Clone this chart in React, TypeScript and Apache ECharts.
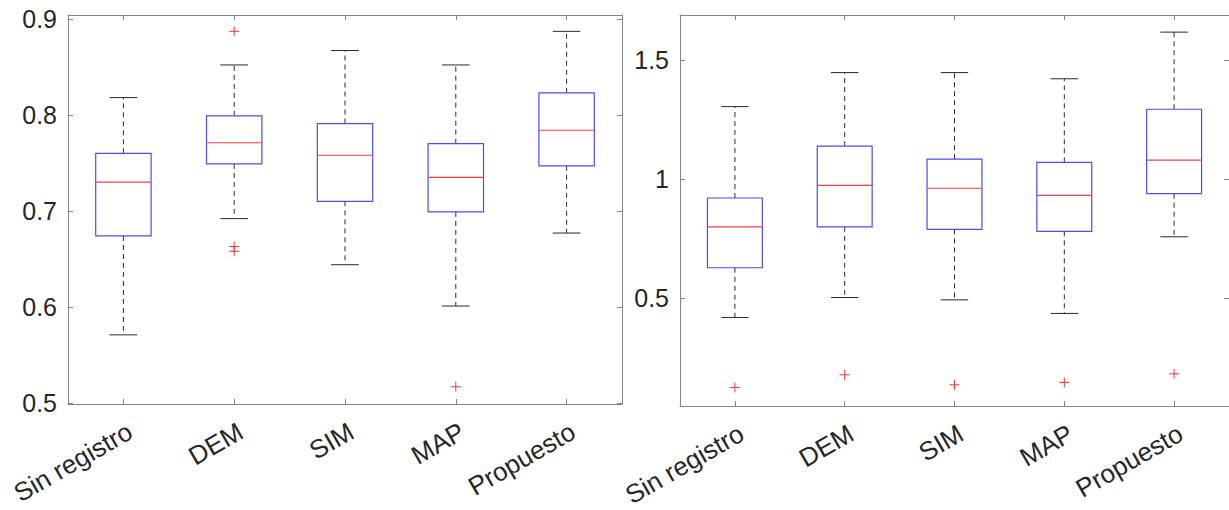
import React, { useEffect, useRef } from "react";
import * as echarts from "echarts";

// Categories (shared by both panels)
const categories = ["Sin registro", "DEM", "SIM", "MAP", "Propuesto"];

// Left panel: [min, Q1, median, Q3, max] per category
const leftBoxes = [
  [0.571, 0.674, 0.730, 0.760, 0.818],
  [0.692, 0.749, 0.771, 0.799, 0.852],
  [0.644, 0.710, 0.758, 0.791, 0.867],
  [0.601, 0.699, 0.735, 0.770, 0.852],
  [0.677, 0.747, 0.784, 0.823, 0.887],
];
// Left panel outliers: [categoryIndex, value]
const leftOutliers = [
  [1, 0.887],
  [1, 0.663],
  [1, 0.658],
  [3, 0.517],
];
const leftTicks = [0.5, 0.6, 0.7, 0.8, 0.9];

// Right panel: [min, Q1, median, Q3, max] per category
const rightBoxes = [
  [0.418, 0.627, 0.799, 0.920, 1.304],
  [0.502, 0.799, 0.973, 1.138, 1.447],
  [0.492, 0.788, 0.961, 1.083, 1.447],
  [0.435, 0.780, 0.931, 1.070, 1.421],
  [0.757, 0.938, 1.079, 1.293, 1.617],
];
const rightOutliers = [
  [0, 0.124],
  [1, 0.177],
  [2, 0.135],
  [3, 0.145],
  [4, 0.181],
];
const rightTicks = [0.5, 1, 1.5];

const FONT = "'Liberation Sans', Arial, Helvetica, sans-serif";
const AXIS_COLOR = "#858585";
const TEXT_COLOR = "#262626";
const BOX_COLOR = "#4c4cf2";
const MED_COLOR = "#ff3c3c";
const WHISKER_COLOR = "#2a2a2a";
const OUT_COLOR = "#ff3030";

function boxRender(params: any, api: any) {
  const i = api.value(0);
  const pMin = api.coord([i, api.value(1)]);
  const pQ1 = api.coord([i, api.value(2)]);
  const pMed = api.coord([i, api.value(3)]);
  const pQ3 = api.coord([i, api.value(4)]);
  const pMax = api.coord([i, api.value(5)]);
  const band = api.size([1, 0])[0];
  const cx = pMed[0];
  const bw = band * 0.5;
  const cw = band * 0.25;
  const dash = { stroke: WHISKER_COLOR, lineWidth: 1, lineDash: [5, 4], fill: null };
  const solid = { stroke: WHISKER_COLOR, lineWidth: 1, fill: null };
  return {
    type: "group",
    children: [
      { type: "line", shape: { x1: cx, y1: pQ3[1], x2: cx, y2: pMax[1] }, style: dash },
      { type: "line", shape: { x1: cx, y1: pQ1[1], x2: cx, y2: pMin[1] }, style: dash },
      { type: "line", shape: { x1: cx - cw / 2, y1: pMax[1], x2: cx + cw / 2, y2: pMax[1] }, style: solid },
      { type: "line", shape: { x1: cx - cw / 2, y1: pMin[1], x2: cx + cw / 2, y2: pMin[1] }, style: solid },
      {
        type: "rect",
        shape: { x: cx - bw / 2, y: pQ3[1], width: bw, height: pQ1[1] - pQ3[1] },
        style: { stroke: BOX_COLOR, lineWidth: 1.2, fill: null },
      },
      {
        type: "line",
        shape: { x1: cx - bw / 2, y1: pMed[1], x2: cx + bw / 2, y2: pMed[1] },
        style: { stroke: MED_COLOR, lineWidth: 1.2, fill: null },
      },
    ],
  };
}

function outlierRender(params: any, api: any) {
  const p = api.coord([api.value(0), api.value(1)]);
  const h = 5;
  const st = { stroke: OUT_COLOR, lineWidth: 1, fill: null };
  return {
    type: "group",
    children: [
      { type: "line", shape: { x1: p[0] - h, y1: p[1], x2: p[0] + h, y2: p[1] }, style: st },
      { type: "line", shape: { x1: p[0], y1: p[1] - h, x2: p[0], y2: p[1] + h }, style: st },
    ],
  };
}

function xAxes(gridIndex: number) {
  const line = { show: true, lineStyle: { color: AXIS_COLOR, width: 1 } };
  const tick = { show: true, inside: true, alignWithLabel: true, length: 5, lineStyle: { color: AXIS_COLOR } };
  return [
    {
      type: "category",
      gridIndex,
      data: categories,
      position: "bottom",
      axisLine: line,
      axisTick: tick,
      axisLabel: {
        rotate: 30,
        margin: 14,
        fontSize: 26,
        color: TEXT_COLOR,
        fontFamily: FONT,
        interval: 0,
        verticalAlign: "top",
      },
    },
    {
      type: "category",
      gridIndex,
      data: categories,
      position: "top",
      axisLine: line,
      axisTick: tick,
      axisLabel: { show: false },
    },
  ];
}

function yAxes(gridIndex: number, min: number, max: number, ticks: number[]) {
  const line = { show: true, lineStyle: { color: AXIS_COLOR, width: 1 } };
  const tick = { show: true, inside: true, length: 5, customValues: ticks, lineStyle: { color: AXIS_COLOR } };
  return [
    {
      type: "value",
      gridIndex,
      min,
      max,
      position: "left",
      axisLine: line,
      axisTick: tick,
      splitLine: { show: false },
      axisLabel: {
        customValues: ticks,
        fontSize: 25,
        margin: 11,
        color: TEXT_COLOR,
        fontFamily: FONT,
        formatter: (v: number) => String(v),
      },
    },
    {
      type: "value",
      gridIndex,
      min,
      max,
      position: "right",
      axisLine: line,
      axisTick: tick,
      splitLine: { show: false },
      axisLabel: { show: false },
    },
  ];
}

export default function App() {
  const ref = useRef<HTMLDivElement>(null);
  useEffect(() => {
    if (!ref.current) return;
    const chart = echarts.init(ref.current, null, { renderer: "svg" });
    const leftBoxData = leftBoxes.map((b, i) => [i, ...b]);
    const rightBoxData = rightBoxes.map((b, i) => [i, ...b]);
    chart.setOption({
      animation: false,
      backgroundColor: "#ffffff",
      grid: [
        { left: 68, top: 15, width: 554, height: 389, containLabel: false },
        { left: 680, top: 15, width: 550, height: 391, containLabel: false },
      ],
      xAxis: [...xAxes(0), ...xAxes(1)],
      yAxis: [...yAxes(0, 0.499, 0.904, leftTicks), ...yAxes(1, 0.046, 1.689, rightTicks)],
      series: [
        {
          type: "custom",
          xAxisIndex: 0,
          yAxisIndex: 0,
          data: leftBoxData,
          renderItem: boxRender,
          encode: { x: 0, y: [1, 2, 3, 4, 5] },
        },
        {
          type: "custom",
          xAxisIndex: 0,
          yAxisIndex: 0,
          data: leftOutliers,
          renderItem: outlierRender,
          encode: { x: 0, y: 1 },
        },
        {
          type: "custom",
          xAxisIndex: 2,
          yAxisIndex: 2,
          data: rightBoxData,
          renderItem: boxRender,
          encode: { x: 0, y: [1, 2, 3, 4, 5] },
        },
        {
          type: "custom",
          xAxisIndex: 2,
          yAxisIndex: 2,
          data: rightOutliers,
          renderItem: outlierRender,
          encode: { x: 0, y: 1 },
        },
      ],
    });
    return () => chart.dispose();
  }, []);
  return (
    <div
      ref={ref}
      style={{ position: "fixed", left: 0, top: 0, width: 1229, height: 510, background: "#fff" }}
    />
  );
}
